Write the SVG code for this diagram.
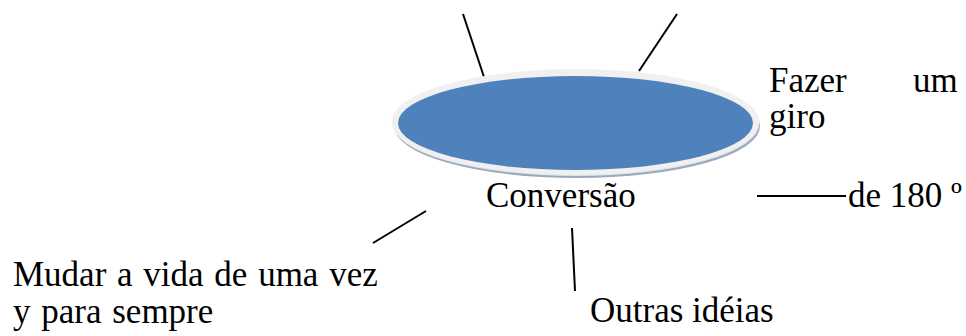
<svg xmlns="http://www.w3.org/2000/svg" width="966" height="336" viewBox="0 0 966 336">
<style>
.c{stroke:#000;stroke-width:2;fill:none}
</style>
<rect width="966" height="336" fill="#fff"/>
<g id="connectors">
<line class="c" x1="463" y1="14" x2="484" y2="77"/>
<line class="c" x1="677" y1="14" x2="639" y2="71"/>
<line class="c" x1="426" y1="211" x2="373" y2="243"/>
<line class="c" x1="572" y1="228" x2="575" y2="291"/>
<line class="c" x1="757" y1="196" x2="846" y2="196"/>
</g>
<g id="center">
<ellipse cx="577" cy="126" rx="183" ry="52" fill="#9ba9bd"/>
<ellipse cx="576" cy="124" rx="183" ry="52" fill="#dfe3e9"/>
<ellipse cx="575.5" cy="122" rx="184" ry="53" fill="#f0f0f0"/>
<ellipse cx="575.5" cy="123" rx="177.5" ry="47" fill="#4f81bd"/>
<text font-family="Liberation Serif" font-size="35" fill="#000" x="486" y="207">Conversão</text>
</g>
<g id="fazer">
<text font-family="Liberation Serif" font-size="35" fill="#000" x="769" y="92">Fazer</text>
<text font-family="Liberation Serif" font-size="35" fill="#000" x="913" y="92">um</text>
<text font-family="Liberation Serif" font-size="35" fill="#000" x="769" y="128">giro</text>
</g>
<g id="grados">
<text font-family="Liberation Serif" font-size="35" fill="#000" x="848" y="207">de 180 º</text>
</g>
<g id="mudar">
<text font-family="Liberation Serif" font-size="35" fill="#000" x="13" y="286" word-spacing="2">Mudar a vida de uma vez</text>
<text font-family="Liberation Serif" font-size="35" fill="#000" x="13" y="323" word-spacing="2">y para sempre</text>
</g>
<g id="outras">
<text font-family="Liberation Serif" font-size="35" fill="#000" x="590" y="322">Outras idéias</text>
</g>
</svg>
